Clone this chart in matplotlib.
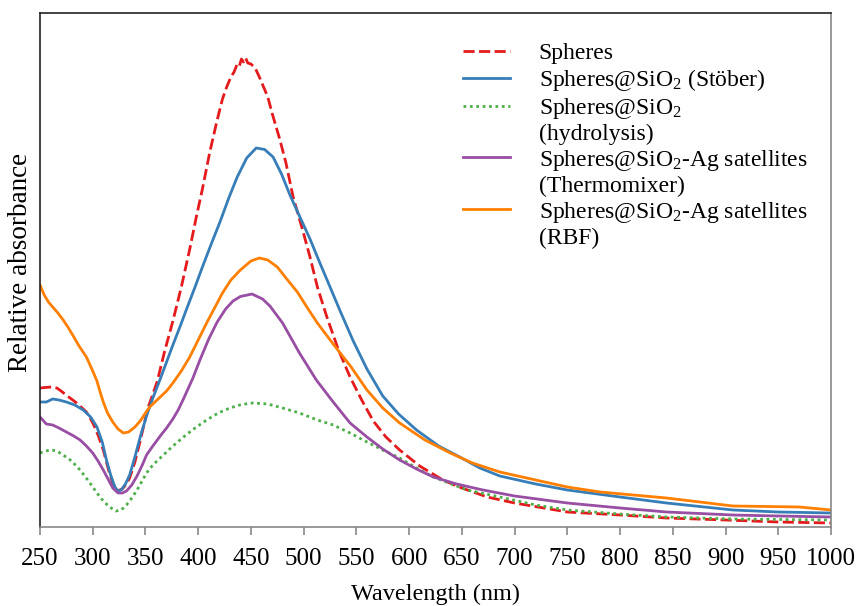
import matplotlib
matplotlib.use("Agg")
import matplotlib.pyplot as plt
from matplotlib.lines import Line2D

plt.rcParams["font.family"] = ["Liberation Serif", "DejaVu Serif"]
plt.rcParams["mathtext.default"] = "regular"

# UV-vis spectra (wavelength in nm, relative absorbance)
wl_spheres = [250, 255, 261, 266, 270, 276, 281, 286, 290, 294, 297, 301, 305, 310, 315,
              319, 323, 328, 332, 335, 340, 345, 352, 361, 368, 376, 384, 392, 398, 404,
              411, 418, 423, 427, 431, 434, 437, 439, 441, 443, 445, 447, 450, 454, 458,
              462, 466, 470, 477, 483, 490, 499, 506, 513, 522, 533, 544, 555, 566, 578,
              591, 610, 632, 650, 674, 700, 750, 800, 844, 900, 950, 1000]
abs_spheres = [0.278, 0.279, 0.280, 0.278, 0.272, 0.262, 0.254, 0.246, 0.238, 0.230, 0.220,
               0.204, 0.184, 0.154, 0.114, 0.088, 0.072, 0.076, 0.086, 0.098, 0.130, 0.172,
               0.236, 0.290, 0.350, 0.412, 0.480, 0.556, 0.618, 0.676, 0.750, 0.814, 0.856,
               0.880, 0.900, 0.910, 0.926, 0.922, 0.936, 0.930, 0.938, 0.928, 0.926, 0.918,
               0.900, 0.880, 0.860, 0.828, 0.778, 0.730, 0.660, 0.594, 0.540, 0.480, 0.420,
               0.354, 0.300, 0.254, 0.212, 0.180, 0.154, 0.122, 0.094, 0.078, 0.060, 0.048,
               0.030, 0.024, 0.018, 0.014, 0.010, 0.008]

wl_stober = [250, 256, 262, 268, 275, 283, 291, 298, 304, 309, 313, 317, 321, 324, 327,
             331, 335, 340, 345, 351, 357, 364, 370, 376, 383, 389, 397, 404, 412, 421,
             429, 437, 446, 455, 463, 471, 479, 487, 496, 506, 515, 523, 535, 547, 560,
             575, 590, 607, 628, 648, 667, 686, 720, 750, 800, 844, 907, 950, 1000]
abs_stober = [0.250, 0.250, 0.256, 0.254, 0.250, 0.244, 0.234, 0.220, 0.200, 0.170, 0.134,
              0.104, 0.080, 0.072, 0.074, 0.086, 0.104, 0.140, 0.180, 0.222, 0.258, 0.296,
              0.330, 0.364, 0.402, 0.436, 0.480, 0.520, 0.564, 0.612, 0.658, 0.700, 0.738,
              0.758, 0.755, 0.740, 0.706, 0.664, 0.622, 0.576, 0.530, 0.490, 0.430, 0.372,
              0.316, 0.262, 0.226, 0.194, 0.162, 0.140, 0.118, 0.102, 0.086, 0.074, 0.060,
              0.048, 0.034, 0.030, 0.028]

wl_hydrolysis = [250, 255, 261, 266, 272, 280, 288, 296, 304, 310, 316, 322, 327, 332,
                 337, 342, 351, 357, 364, 375, 386, 397, 408, 419, 430, 441, 452, 466,
                 480, 496, 513, 528, 544, 560, 575, 591, 607, 623, 640, 655, 686, 720,
                 750, 800, 844, 907, 1000]
abs_hydrolysis = [0.148, 0.152, 0.154, 0.152, 0.144, 0.132, 0.114, 0.092, 0.068, 0.052,
                  0.040, 0.032, 0.034, 0.044, 0.058, 0.074, 0.108, 0.124, 0.138, 0.160,
                  0.180, 0.198, 0.214, 0.228, 0.238, 0.245, 0.248, 0.246, 0.238, 0.228,
                  0.214, 0.204, 0.188, 0.170, 0.154, 0.138, 0.118, 0.100, 0.086, 0.074,
                  0.060, 0.044, 0.034, 0.026, 0.020, 0.016, 0.014]

wl_thermo = [250, 256, 262, 268, 275, 282, 288, 294, 300, 305, 310, 315, 319, 324, 328,
             332, 337, 342, 347, 351, 357, 364, 370, 376, 381, 386, 395, 402, 410, 418,
             426, 433, 440, 451, 461, 468, 480, 496, 512, 528, 544, 560, 575, 591, 607,
             623, 645, 670, 700, 750, 800, 844, 907, 950, 1000]
abs_thermo = [0.220, 0.206, 0.204, 0.198, 0.190, 0.182, 0.174, 0.162, 0.148, 0.132, 0.114,
              0.094, 0.078, 0.068, 0.068, 0.072, 0.084, 0.102, 0.124, 0.144, 0.162, 0.182,
              0.198, 0.216, 0.234, 0.256, 0.298, 0.336, 0.376, 0.410, 0.436, 0.452, 0.461,
              0.466, 0.456, 0.442, 0.408, 0.348, 0.294, 0.250, 0.208, 0.180, 0.156, 0.134,
              0.116, 0.100, 0.086, 0.074, 0.062, 0.048, 0.038, 0.030, 0.024, 0.022, 0.020]

wl_rbf = [250, 254, 258, 262, 267, 272, 277, 281, 287, 294, 300, 304, 307, 310, 314, 319,
          324, 329, 334, 340, 345, 350, 354, 359, 364, 370, 376, 384, 392, 400, 408, 416,
          423, 431, 440, 450, 458, 466, 475, 484, 494, 503, 513, 528, 545, 560, 575, 591,
          615, 639, 660, 686, 720, 750, 781, 844, 907, 940, 970, 1000]
abs_rbf = [0.484, 0.464, 0.450, 0.440, 0.428, 0.414, 0.398, 0.384, 0.362, 0.340, 0.312,
           0.292, 0.270, 0.250, 0.228, 0.210, 0.196, 0.188, 0.190, 0.200, 0.212, 0.228,
           0.240, 0.250, 0.260, 0.272, 0.288, 0.312, 0.340, 0.374, 0.408, 0.440, 0.468,
           0.494, 0.514, 0.532, 0.538, 0.534, 0.520, 0.496, 0.470, 0.440, 0.408, 0.366,
           0.320, 0.274, 0.238, 0.208, 0.174, 0.148, 0.128, 0.110, 0.094, 0.080, 0.070,
           0.058, 0.042, 0.041, 0.040, 0.034]

fig = plt.figure(figsize=(8.57, 6.06), dpi=100)
ax = fig.add_axes([40 / 857, 1 - 527 / 606, 791 / 857, 514 / 606])

lw = 2.0
dash = (0, (4, 1.6))
dots = (0, (1, 1.3))
ax.plot(wl_spheres, abs_spheres, color="#e41a1c", lw=lw, ls=dash)
ax.plot(wl_stober, abs_stober, color="#377eb8", lw=lw)
ax.plot(wl_hydrolysis, abs_hydrolysis, color="#4daf4a", lw=lw, ls=dots)
ax.plot(wl_thermo, abs_thermo, color="#984ea3", lw=lw)
ax.plot(wl_rbf, abs_rbf, color="#ff7f00", lw=lw)

ax.set_xlim(250, 1000)
ax.set_ylim(0, 1.028)
ax.set_xticks(range(250, 1001, 50))
ax.set_yticks([])
ax.tick_params(axis="x", direction="out", length=5.8, width=1.2, color="#888888",
               labelsize=18, pad=9)
for side in ("left", "top"):
    ax.spines[side].set_color("#222222")
for side in ("bottom", "right"):
    ax.spines[side].set_color("#888888")
for s in ax.spines.values():
    s.set_linewidth(1.2)

ax.set_xlabel("Wavelength (nm)", fontsize=17.5, labelpad=10)
ax.set_ylabel("Relative absorbance", fontsize=19.5)
ax.yaxis.set_label_coords(-0.009, 0.515)

# legend: continuation lines get an empty handle so every row keeps the same height
blank = Line2D([], [], color="none")
handles = [
    Line2D([], [], color="#e41a1c", lw=lw, ls=dash),
    Line2D([], [], color="#377eb8", lw=lw),
    Line2D([], [], color="#4daf4a", lw=lw, ls=dots),
    blank,
    Line2D([], [], color="#984ea3", lw=lw),
    blank,
    Line2D([], [], color="#ff7f00", lw=lw),
    blank,
]
labels = [
    "Spheres",
    "Spheres@SiO$_2$ (Stöber)",
    "Spheres@SiO$_2$",
    "(hydrolysis)",
    "Spheres@SiO$_2$-Ag satellites",
    "(Thermomixer)",
    "Spheres@SiO$_2$-Ag satellites",
    "(RBF)",
]
ax.legend(handles, labels, loc="upper left", bbox_to_anchor=(0.535, 0.942),
          frameon=False, fontsize=17, handlelength=2.0, handletextpad=1.2,
          labelspacing=0.115, borderpad=0, borderaxespad=0)

fig.savefig("out.png", dpi=100)
